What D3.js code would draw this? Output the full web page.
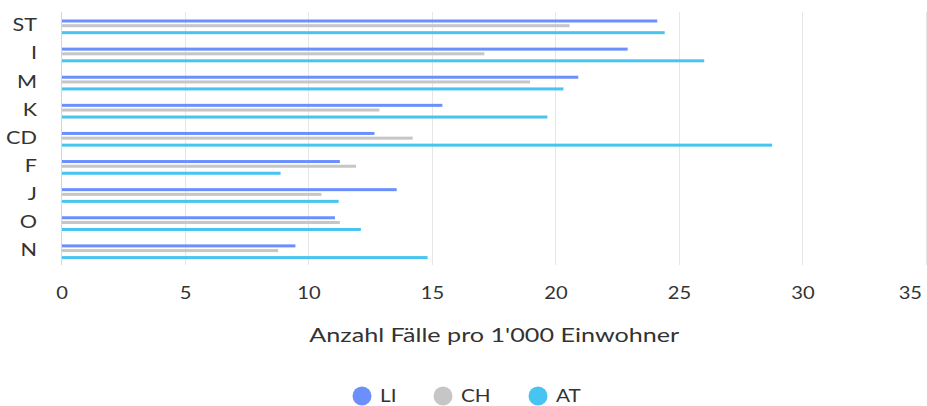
<!DOCTYPE html>
<html><head><meta charset="utf-8">
<script src="https://cdn.jsdelivr.net/npm/d3@7/dist/d3.min.js"></script>
<style>body{margin:0;background:#fff;}svg{display:block;font-family:Lato,"Open Sans",sans-serif;}</style>
</head><body><svg id="c" width="927" height="406"></svg>
<script>
const categories = ["ST","I","M","K","CD","F","J","O","N"];
const seriesNames = ["LI","CH","AT"];
const LI = [24.1, 22.9, 20.9, 15.4, 12.65, 11.25, 13.55, 11.05, 9.45];
const CH = [20.55, 17.1, 18.95, 12.85, 14.2, 11.9, 10.5, 11.25, 8.75];
const AT = [24.4, 26.0, 20.3, 19.65, 28.75, 8.85, 11.2, 12.1, 14.8];
const xTicks = [0,5,10,15,20,25,30,35];
const axisTitle = "Anzahl Fälle pro 1'000 Einwohner";
const colors = {LI:"#6b8ffd", CH:"#c6c6c6", AT:"#47c4ef"};
const values = {LI, CH, AT};

(function(){
const svg = d3.select("#c");
const mLeft = 62, mRight = 926.5, mTop = 12, mBottom = 265;
function widen(sel, k){
  sel.each(function(){
    const w = this.getComputedTextLength();
    if (w > 0) d3.select(this).attr("textLength", w*k).attr("lengthAdjust","spacingAndGlyphs");
  });
}
const x = d3.scaleLinear().domain([0,35]).range([mLeft,mRight]);
const y = d3.scaleBand().domain(categories).range([mTop,mBottom]).padding(0);
const off = d3.scaleOrdinal().domain(seriesNames).range([9, 13.7, 20.7]);
const barH = 3;

svg.append("g").selectAll("line").data(xTicks.filter(t=>t>0)).join("line")
  .attr("x1",d=>Math.round(x(d))-0.5).attr("x2",d=>Math.round(x(d))-0.5)
  .attr("y1",mTop).attr("y2",mBottom).attr("stroke","#e6e6e6").attr("stroke-width",1);

seriesNames.forEach(s=>{
  svg.append("g").selectAll("rect").data(categories).join("rect")
    .attr("x",x(0)).attr("y",(c)=>y(c)+off(s)-barH/2)
    .attr("width",(c,i)=>x(values[s][i])-x(0)).attr("height",barH)
    .attr("fill",colors[s]);
});

svg.append("line").attr("x1",mLeft-0.5).attr("x2",mLeft-0.5).attr("y1",mTop).attr("y2",mBottom)
  .attr("stroke","#ccd6eb").attr("stroke-width",1);

svg.append("g").selectAll("text").data(categories).join("text")
  .attr("x",37).attr("y",c=>y(c)+y.bandwidth()/2-1).attr("dy","0.35em")
  .attr("text-anchor","end").attr("font-size",18).attr("fill","#333").text(d=>d).call(widen,1.2);

svg.append("g").selectAll("text").data(xTicks).join("text")
  .attr("x",d=> d===35 ? 922 : x(d)).attr("y",299)
  .attr("text-anchor",d=> d===35 ? "end" : "middle")
  .attr("font-size",17.5).attr("fill","#333").text(d=>d).call(widen,1.15);

const t = svg.append("text").attr("x",(mLeft+mRight)/2).attr("y",342).attr("text-anchor","middle")
  .attr("font-size",18.5).attr("fill","#333").text(axisTitle);
t.attr("textLength",370).attr("lengthAdjust","spacingAndGlyphs");

const legX = [362, 443, 538];
const lg = svg.append("g").selectAll("g").data(seriesNames).join("g")
  .attr("transform",(d,i)=>`translate(${legX[i]},396)`);
lg.append("circle").attr("r",9.5).attr("fill",d=>colors[d]);
lg.append("text").attr("x",18).attr("dy","0.35em").attr("font-size",18).attr("fill","#333").text(d=>d).call(widen,1.15);
})();
</script></body></html>
